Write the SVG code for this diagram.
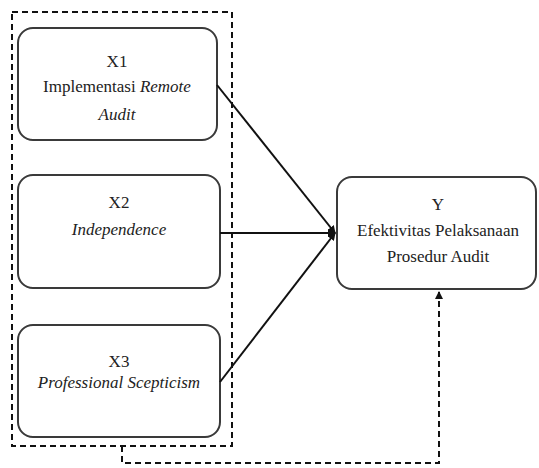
<svg xmlns="http://www.w3.org/2000/svg" width="539" height="468" viewBox="0 0 539 468">
<style>
.box{fill:#fff;stroke:#3a3a3a;stroke-width:2}
.t{font-family:"Liberation Serif","Times New Roman",serif;font-size:17px;fill:#222;text-anchor:middle}
.i{font-style:italic}
.ln{stroke:#111;stroke-width:2;fill:none}
.dash{stroke:#111;stroke-width:2;fill:none;stroke-dasharray:6,4}
</style>
<defs>
<marker id="ah" markerWidth="8" markerHeight="8" refX="7" refY="4" orient="auto" markerUnits="userSpaceOnUse">
<path d="M0,0 L8,4 L0,8 z" fill="#111"/>
</marker>
</defs>
<rect width="539" height="468" fill="#fff"/>
<g id="group-box">
<rect x="12" y="12" width="220" height="434" class="dash"/>
</g>
<g id="x1">
<rect x="18" y="28" width="199" height="112" rx="15" class="box"/>
<text class="t" x="117" y="67">X1</text>
<text class="t" x="117" y="92">Implementasi <tspan class="i">Remote</tspan></text>
<text class="t i" x="117" y="120">Audit</text>
</g>
<g id="x2">
<rect x="18" y="175" width="202" height="113" rx="15" class="box"/>
<text class="t" x="119" y="208">X2</text>
<text class="t i" x="119" y="235">Independence</text>
</g>
<g id="x3">
<rect x="18" y="325" width="202" height="112" rx="15" class="box"/>
<text class="t" x="119" y="367">X3</text>
<text class="t i" x="119" y="388">Professional Scepticism</text>
</g>
<g id="y">
<rect x="337" y="177" width="199" height="112" rx="15" class="box"/>
<text class="t" x="438" y="210">Y</text>
<text class="t" x="438" y="236">Efektivitas Pelaksanaan</text>
<text class="t" x="438" y="262">Prosedur Audit</text>
</g>
<g id="connectors">
<line x1="217" y1="85" x2="335" y2="233" class="ln" marker-end="url(#ah)"/>
<line x1="220" y1="233" x2="335" y2="233" class="ln" marker-end="url(#ah)"/>
<line x1="220" y1="382" x2="335" y2="233" class="ln" marker-end="url(#ah)"/>
<path d="M122,446 V463 H439 V292" class="dash" marker-end="url(#ah)"/>
</g>
</svg>
